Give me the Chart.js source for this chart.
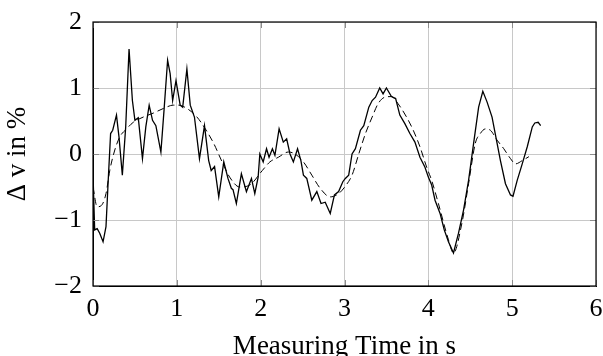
<!DOCTYPE html>
<html lang="en">
<head>
<meta charset="UTF-8">
<title>Measuring Time vs Delta v</title>
<style>
  body { margin: 0; background: #fff; }
  #wrap { width: 603px; height: 356px; }
</style>
<script src="https://cdn.jsdelivr.net/npm/chart.js"></script>
</head>
<body>
<div id="wrap"><canvas id="chart"></canvas></div>
<script>
// measured signal (solid)
var timeMeasured = [0.00, 0.02, 0.05, 0.08, 0.12, 0.155, 0.18, 0.21, 0.235, 0.28, 0.31, 0.35, 0.39, 0.43, 0.47, 0.50, 0.54, 0.59, 0.63, 0.67,
  0.71, 0.75, 0.81, 0.85, 0.89, 0.92, 0.95, 0.99, 1.04, 1.07, 1.12, 1.16, 1.21, 1.27, 1.33, 1.38, 1.41, 1.45, 1.50, 1.56,
  1.61, 1.65, 1.67, 1.71, 1.77, 1.83, 1.89, 1.93, 1.97, 1.99, 2.03, 2.07, 2.10, 2.14, 2.17, 2.22, 2.27, 2.31, 2.35, 2.39,
  2.44, 2.48, 2.51, 2.55, 2.61, 2.67, 2.72, 2.77, 2.83, 2.88, 2.93, 2.98, 3.01, 3.05, 3.09, 3.13, 3.19, 3.23, 3.29, 3.33,
  3.37, 3.42, 3.46, 3.50, 3.56, 3.61, 3.66, 3.72, 3.78, 3.84, 3.90, 3.96, 4.00, 4.04, 4.08, 4.14, 4.19, 4.24, 4.30, 4.36,
  4.42, 4.48, 4.54, 4.60, 4.65, 4.70, 4.76, 4.81, 4.86, 4.92, 4.98, 5.01, 5.06, 5.12, 5.18, 5.24, 5.27, 5.31, 5.34];
var deltaMeasured = [-0.30, -1.15, -1.13, -1.20, -1.33, -1.10, -0.44, 0.31, 0.36, 0.59, 0.26, -0.32, 0.41, 1.59, 0.81, 0.51, 0.55, -0.07, 0.41, 0.74,
  0.51, 0.43, 0.03, 0.71, 1.42, 1.22, 0.81, 1.11, 0.74, 0.71, 1.29, 0.74, 0.56, -0.07, 0.43, -0.10, -0.25, -0.19, -0.65, -0.12,
  -0.37, -0.52, -0.54, -0.75, -0.30, -0.57, -0.37, -0.60, -0.35, 0.00, -0.12, 0.08, -0.05, 0.08, -0.02, 0.38, 0.18, 0.23, 0.00, -0.12,
  0.08, -0.10, -0.32, -0.37, -0.70, -0.57, -0.75, -0.73, -0.90, -0.62, -0.57, -0.42, -0.37, -0.32, 0.00, 0.08, 0.36, 0.43, 0.71, 0.81,
  0.86, 1.00, 0.91, 1.00, 0.87, 0.84, 0.59, 0.46, 0.31, 0.18, -0.05, -0.20, -0.35, -0.47, -0.70, -0.90, -1.15, -1.33, -1.50, -1.20,
  -0.85, -0.40, 0.16, 0.71, 0.95, 0.79, 0.56, 0.23, -0.10, -0.45, -0.62, -0.64, -0.40, -0.15, 0.11, 0.41, 0.47, 0.48, 0.43];

// model (dashed)
var timeModel = [0.00, 0.05, 0.10, 0.155, 0.20, 0.26, 0.32, 0.40, 0.48, 0.60, 0.72, 0.84, 0.96, 1.02, 1.12, 1.24, 1.34, 1.44, 1.54, 1.63,
  1.75, 1.87, 2.02, 2.11, 2.21, 2.33, 2.41, 2.51, 2.61, 2.71, 2.83, 2.93, 3.02, 3.09, 3.17, 3.25, 3.33, 3.40, 3.48, 3.56,
  3.64, 3.74, 3.82, 3.90, 3.98, 4.04, 4.12, 4.24, 4.30, 4.40, 4.48, 4.56, 4.62, 4.68, 4.74, 4.82, 4.90, 4.98, 5.04, 5.12, 5.20];
var deltaModel = [-0.50, -0.80, -0.78, -0.60, -0.25, 0.06, 0.26, 0.38, 0.48, 0.56, 0.62, 0.69, 0.74, 0.74, 0.69, 0.56, 0.38, 0.16, -0.12, -0.35,
  -0.50, -0.47, -0.25, -0.12, -0.05, 0.03, 0.00, -0.12, -0.32, -0.52, -0.65, -0.60, -0.47, -0.32, 0.00, 0.31, 0.56, 0.76, 0.86, 0.87,
  0.76, 0.56, 0.36, 0.11, -0.20, -0.40, -0.75, -1.30, -1.50, -1.05, -0.45, 0.16, 0.31, 0.38, 0.36, 0.21, 0.08, -0.07, -0.15, -0.10, -0.04];

var xTicks = [0, 1, 2, 3, 4, 5, 6];
var yTicks = [-2, -1, 0, 1, 2];

function toPoints(xs, ys) {
  return xs.map(function (x, i) { return { x: x, y: ys[i] }; });
}

var serif = "'Liberation Serif', 'DejaVu Serif', serif";

// box around plot + small inward tick marks (pgfplots look)
var framePlugin = {
  id: 'frame',
  afterDatasetsDraw: function (chart) {
    var ctx = chart.ctx, a = chart.chartArea;
    var xs = chart.scales.x, ys = chart.scales.y;
    var len = 6;
    ctx.save();
    ctx.strokeStyle = '#8c8c8c';
    ctx.lineWidth = 1;
    ctx.beginPath();
    xTicks.forEach(function (v) {
      var px = Math.round(xs.getPixelForValue(v)) + 0.5;
      ctx.moveTo(px, a.bottom); ctx.lineTo(px, a.bottom - len);
      ctx.moveTo(px, a.top); ctx.lineTo(px, a.top + len);
    });
    yTicks.forEach(function (v) {
      var py = Math.round(ys.getPixelForValue(v)) + 0.5;
      ctx.moveTo(a.left, py); ctx.lineTo(a.left + len, py);
      ctx.moveTo(a.right, py); ctx.lineTo(a.right - len, py);
    });
    ctx.stroke();
    ctx.strokeStyle = '#000';
    ctx.lineWidth = 1.2;
    ctx.strokeRect(a.left, a.top, a.right - a.left, a.bottom - a.top);
    ctx.restore();
  }
};

new Chart(document.getElementById('chart'), {
  type: 'line',
  data: {
    datasets: [{
      label: 'measured',
      data: toPoints(timeMeasured, deltaMeasured),
      borderColor: '#000',
      borderWidth: 1.3,
      pointRadius: 0,
      tension: 0,
      fill: false
    }, {
      label: 'model',
      data: toPoints(timeModel, deltaModel),
      borderColor: '#000',
      borderWidth: 1,
      borderDash: [7, 4],
      pointRadius: 0,
      cubicInterpolationMode: 'monotone',
      fill: false
    }]
  },
  options: {
    responsive: true,
    maintainAspectRatio: false,
    animation: false,
    layout: { padding: { top: 22, right: 7, left: 0, bottom: 0 } },
    plugins: { legend: { display: false }, tooltip: { enabled: false } },
    scales: {
      x: {
        type: 'linear',
        min: 0, max: 6,
        afterFit: function (s) { s.height = 70; s.paddingLeft = 0; s.paddingRight = 0; },
        afterBuildTicks: function (s) { s.ticks = xTicks.map(function (v) { return { value: v }; }); },
        grid: { color: '#c8c8c8', drawTicks: false },
        border: { display: true, color: '#000' },
        ticks: { color: '#000', padding: 8, font: { family: serif, size: 26 }, maxRotation: 0 },
        title: { display: true, text: 'Measuring Time in s', color: '#000',
                 font: { family: serif, size: 27 }, padding: { top: 0, bottom: -7 } }
      },
      y: {
        min: -2, max: 2,
        afterFit: function (s) { s.width = 93; s.paddingTop = 0; s.paddingBottom = 0; },
        afterBuildTicks: function (s) { s.ticks = yTicks.map(function (v) { return { value: v }; }); },
        grid: { color: '#c8c8c8', drawTicks: false },
        border: { display: true, color: '#000' },
        ticks: {
          color: '#000', padding: 11, font: { family: serif, size: 26 },
          callback: function (v) { return v < 0 ? '\u2212' + Math.abs(v) : String(v); }
        },
        title: { display: true, text: '\u0394 v in %', color: '#000',
                 font: { family: serif, size: 27 }, padding: { top: 2, bottom: 0 } }
      }
    }
  },
  plugins: [framePlugin]
});
</script>
</body>
</html>
